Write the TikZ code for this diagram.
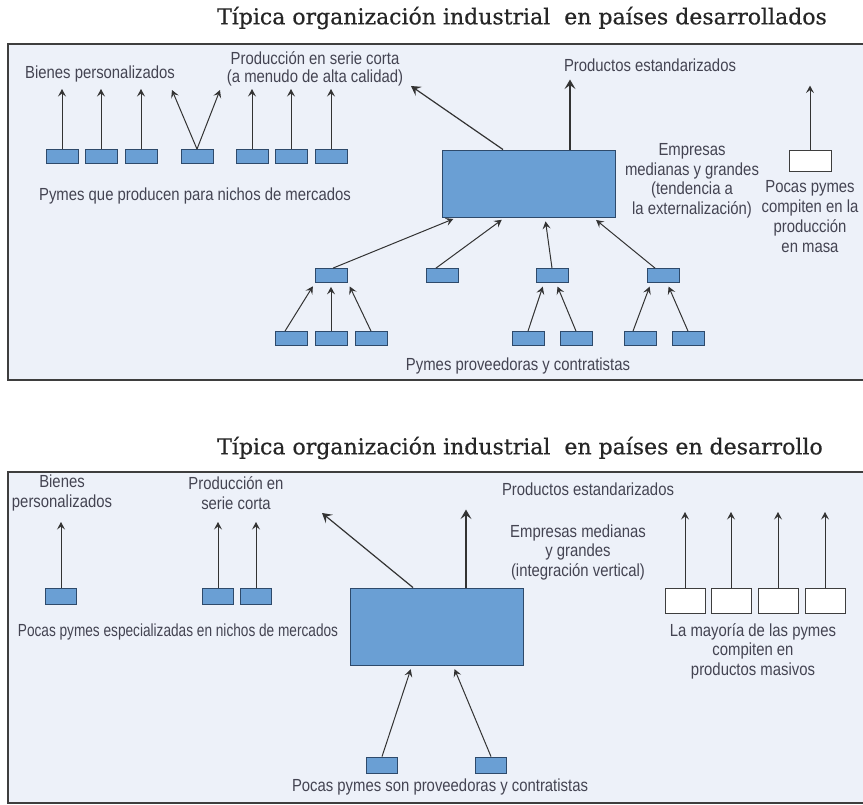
\documentclass[tikz,border=0pt]{standalone}
\usepackage{fontspec}
\setmainfont{Liberation Sans}
\newfontfamily\titulo[FakeBold=0.6]{DejaVu Serif}
\newfontfamily\etiq[FakeStretch=0.85]{Liberation Sans}
\newfontfamily\etiqestrecha[FakeStretch=0.78]{Liberation Sans}
\usetikzlibrary{arrows.meta,positioning}
\definecolor{azul}{HTML}{6A9FD4}
\definecolor{bordeazul}{HTML}{2E4A6B}
\definecolor{fondo}{HTML}{EDF1F9}
\definecolor{marco}{HTML}{3E3E3E}
\definecolor{texto}{HTML}{444452}
\definecolor{flecha}{HTML}{333333}
\tikzset{
  pyme/.style={draw=bordeazul,fill=azul,line width=0.8pt,minimum width=32pt,minimum height=14pt,inner sep=0pt},
  pymeblanca/.style={draw=marco,fill=white,line width=0.8pt,minimum width=40pt,minimum height=22pt,inner sep=0pt},
  empresa/.style={draw=bordeazul,fill=azul,line width=0.9pt,minimum width=173pt,minimum height=67pt,inner sep=0pt},
  etiqueta/.style={text=texto,font=\etiq\fontsize{17.5}{19.5}\selectfont,align=center,inner sep=0pt},
  flechita/.style={draw=flecha,line width=1pt,-{Stealth[length=7.5pt,width=8pt,inset=3pt]}},
  flechota/.style={draw=flecha,line width=1.2pt,-{Stealth[length=9.5pt,width=11pt,inset=4pt]}},
  tituloA/.style={font=\titulo\fontsize{22}{24}\selectfont,text=black!85,inner sep=0pt},
  panel/.style={draw=marco,fill=fondo,line width=2pt}
}

\begin{document}
\begin{tikzpicture}[x=1pt,y=-1pt]
\useasboundingbox (0,0) rectangle (863,805);

% panel de arriba: paises desarrollados
\node[tituloA] (tit1) at (522,18) {Típica organización industrial\ \ en países desarrollados};
\draw[panel] (8,44) rectangle (872,380);

\node[etiqueta] (bienesA) at (100,74) {Bienes personalizados};
\node[etiqueta,font=\etiq\fontsize{17.5}{18}\selectfont] (serieA) at (315,69) {Producción en serie corta\\(a menudo de alta calidad)};
\node[etiqueta] (pymesA) at (195,196) {Pymes que producen para nichos de mercados};
\node[etiqueta] (productosA) at (650,65) {Productos estandarizados};
\node[etiqueta] (empresasA) at (692,181) {Empresas\\medianas y grandes\\(tendencia a\\la externalización)};
\node[etiqueta,font=\etiq\fontsize{17.5}{20}\selectfont] (pocasA) at (810,217) {Pocas pymes\\compiten en la\\producción\\en masa};
\node[etiqueta] (proveedorasA) at (518,366) {Pymes proveedoras y contratistas};

\coordinate (cimaA) at (0,89);
\coordinate (vA) at (172,90);
\coordinate (vB) at (220,90);
\foreach \x [count=\i] in {62,101,141,197,252,291,331}
  \node[pyme] (p\i) at (\x,156.5) {};
\foreach \i in {1,2,3,5,6,7}
  \draw[flechita] (p\i.north) -- (p\i.north |- cimaA);
\draw[flechita] (p4.north) -- (vA);
\draw[flechita] (p4.north) -- (vB);

\node[empresa] (E1) at (528.5,183.5) {};
\coordinate (serieTip) at (411,86);
\draw[flechota] ([xshift=-25.5pt]E1.north) -- (serieTip);
\draw[flechota] ([xshift=41.5pt]E1.north) -- ++(0,-70);

\node[pymeblanca,minimum width=42pt,minimum height=21pt] (B1) at (810,160.5) {};
\draw[flechita] (B1.north) -- ++(0,-64);

% proveedores
\foreach \x [count=\i] in {331,442,552,663}
  \node[pyme] (q\i) at (\x,275.5) {};
\foreach \x [count=\i] in {291,331,371,528,576,640,688}
  \node[pyme] (r\i) at (\x,338.5) {};
\begin{scope}[shorten >=4pt]
\draw[flechita] ([xshift=2pt]q1.north) -- ([xshift=-71.5pt]E1.south);
\draw[flechita] ([xshift=-6pt]q2.north) -- ([xshift=-23.5pt]E1.south);
\draw[flechita] (q3.north) -- ([xshift=16.5pt]E1.south);
\draw[flechita] ([xshift=-8pt]q4.north) -- ([xshift=64.5pt]E1.south);
\draw[flechita] ([xshift=-6pt]r1.north) -- ([xshift=-16pt]q1.south);
\draw[flechita] (r2.north) -- (q1.south);
\draw[flechita] (r3.north) -- ([xshift=17pt]q1.south);
\draw[flechita] (r4.north) -- ([xshift=-8pt]q3.south);
\draw[flechita] (r5.north) -- ([xshift=4pt]q3.south);
\draw[flechita] ([xshift=-7pt]r6.north) -- ([xshift=-12pt]q4.south);
\draw[flechita] (r7.north) -- ([xshift=4pt]q4.south);
\end{scope}

% panel de abajo: paises en desarrollo
\node[tituloA] (tit2) at (520,448) {Típica organización industrial\ \ en países en desarrollo};
\draw[panel] (8,472) rectangle (872,803);

\node[etiqueta,font=\etiq\fontsize{17.5}{20}\selectfont] (bienesB) at (62,493) {Bienes\\personalizados};
\node[etiqueta,font=\etiq\fontsize{17.5}{20}\selectfont] (serieB) at (236,493) {Producción en\\serie corta};
\node[etiqueta,font=\etiqestrecha\fontsize{17.5}{19.5}\selectfont] (nichosB) at (178,632) {Pocas pymes especializadas en nichos de mercados};
\node[etiqueta] (productosB) at (588,489) {Productos estandarizados};
\node[etiqueta] (empresasB) at (578,552) {Empresas medianas\\y grandes\\(integración vertical)};
\node[etiqueta] (mayoriaB) at (753,651) {La mayoría de las pymes\\compiten en\\productos masivos};
\node[etiqueta] (proveedorasB) at (440,787) {Pocas pymes son proveedoras y contratistas};

\coordinate (cimaB) at (0,522);
\foreach \x [count=\i] in {61,218,256}
  \node[pyme,minimum width=31pt,minimum height=16pt] (s\i) at (\x,596) {};
\foreach \i in {1,2,3}
  \draw[flechita] (s\i.north) -- (s\i.north |- cimaB);

\node[empresa,minimum height=77pt] (E2) at (436.5,626.5) {};
\coordinate (serieTipB) at (322,513);
\draw[flechota] ([xshift=-23.5pt]E2.north) -- (serieTipB);
\draw[flechota] ([xshift=29.5pt]E2.north) -- ++(0,-78);

\coordinate (cimaC) at (0,512);
\foreach \x [count=\i] in {685,731,778,825}
  \node[pymeblanca,minimum height=25pt] (w\i) at (\x,600.5) {};
\foreach \i in {1,...,4}
  \draw[flechita] (w\i.north) -- (w\i.north |- cimaC);

\foreach \x [count=\i] in {382,491}
  \node[pyme,minimum width=31pt,minimum height=16pt] (t\i) at (\x,765) {};
\draw[flechita,shorten >=4pt] (t1.north) -- ([xshift=-24.5pt]E2.south);
\draw[flechita,shorten >=4pt] (t2.north) -- ([xshift=16.5pt]E2.south);
\end{tikzpicture}
\end{document}
